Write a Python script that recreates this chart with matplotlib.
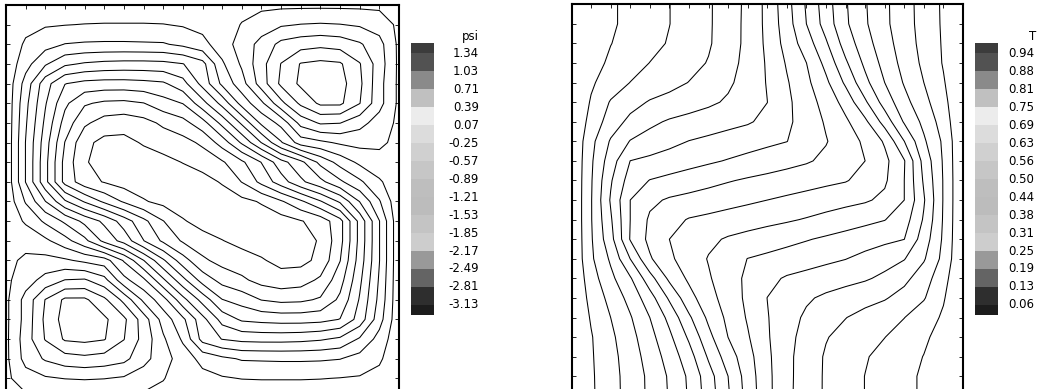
import numpy as np
import matplotlib
matplotlib.use('Agg')
import matplotlib.pyplot as plt
from matplotlib.patches import Rectangle

# 21 x 21 grid nodes (rows go from top y=1 down to bottom y=0)
x = np.linspace(0, 1, 21)
y = np.linspace(1, 0, 21)

# stream function
psi = np.array([
    [0, 0, 0, 0, 0, 0, 0, 0, 0, 0, 0, 0, 0, 0, 0, 0, 0, 0, 0, 0, 0],
    [0, -.15, -.22, -.24, -.26, -.27, -.27, -.27, -.26, -.22, -.15, -.03, .08, .22, .35, .40, .42, .40, .35, .25, 0],
    [0, -.30, -.45, -.58, -.61, -.62, -.62, -.61, -.60, -.50, -.35, -.08, .20, .50, .80, .90, .95, .90, .75, .50, 0],
    [0, -.45, -.85, -1.15, -1.25, -1.30, -1.32, -1.32, -1.30, -1.22, -1.00, -.30, .12, .60, 1.04, 1.36, 1.42, 1.38, 1.05, .55, 0],
    [0, -.70, -1.40, -1.84, -1.95, -1.98, -1.98, -1.95, -1.90, -1.65, -1.10, -.50, -.06, .55, 1.10, 1.40, 1.52, 1.46, 1.10, .50, 0],
    [0, -.80, -1.50, -2.10, -2.45, -2.55, -2.57, -2.50, -2.30, -2.16, -1.65, -1.10, -.45, .00, .62, 1.10, 1.40, 1.40, 1.04, .50, 0],
    [0, -.85, -1.60, -2.30, -2.75, -2.95, -3.00, -2.92, -2.75, -2.60, -2.30, -1.75, -1.15, -.50, -.15, .50, .75, .72, .50, .25, 0],
    [0, -.90, -1.70, -2.50, -3.05, -3.22, -3.22, -3.10, -3.00, -2.92, -2.75, -2.35, -1.80, -1.20, -.60, -.10, .00, .12, .17, .12, 0],
    [0, -.90, -1.75, -2.60, -3.10, -3.25, -3.28, -3.28, -3.22, -3.12, -3.00, -2.85, -2.55, -2.16, -1.65, -1.30, -.80, -.45, -.18, -.02, 0],
    [0, -.90, -1.75, -2.60, -3.00, -3.15, -3.27, -3.30, -3.30, -3.30, -3.25, -3.10, -2.80, -2.40, -2.00, -1.60, -1.30, -.95, -.63, -.30, 0],
    [0, -.60, -1.20, -1.80, -2.20, -2.55, -2.85, -3.10, -3.22, -3.30, -3.33, -3.30, -3.22, -3.10, -2.85, -2.55, -2.20, -1.80, -1.20, -.60, 0],
    [0, -.30, -.63, -.95, -1.30, -1.60, -2.00, -2.40, -2.80, -3.10, -3.25, -3.30, -3.30, -3.30, -3.27, -3.15, -3.00, -2.60, -1.75, -.90, 0],
    [0, -.02, -.18, -.45, -.80, -1.30, -1.65, -2.16, -2.55, -2.85, -3.00, -3.12, -3.22, -3.28, -3.28, -3.25, -3.10, -2.60, -1.75, -.90, 0],
    [0, .12, .17, .12, .00, -.10, -.60, -1.20, -1.80, -2.35, -2.75, -2.92, -3.00, -3.10, -3.22, -3.22, -3.05, -2.50, -1.70, -.90, 0],
    [0, .25, .50, .72, .75, .50, -.15, -.50, -1.15, -1.75, -2.30, -2.60, -2.75, -2.92, -3.00, -2.95, -2.75, -2.30, -1.60, -.85, 0],
    [0, .50, 1.04, 1.40, 1.40, 1.10, .62, .00, -.45, -1.10, -1.65, -2.16, -2.30, -2.50, -2.57, -2.55, -2.45, -2.10, -1.50, -.80, 0],
    [0, .50, 1.10, 1.46, 1.52, 1.40, 1.10, .55, -.06, -.50, -1.10, -1.65, -1.90, -1.95, -1.98, -1.98, -1.95, -1.84, -1.40, -.70, 0],
    [0, .55, 1.05, 1.38, 1.42, 1.36, 1.04, .60, .12, -.30, -1.00, -1.22, -1.30, -1.32, -1.32, -1.30, -1.25, -1.15, -.85, -.45, 0],
    [0, .50, .75, .90, .95, .90, .80, .50, .20, -.08, -.35, -.50, -.60, -.61, -.62, -.62, -.61, -.58, -.45, -.30, 0],
    [0, .25, .35, .40, .42, .40, .35, .22, .08, -.03, -.15, -.22, -.26, -.27, -.27, -.27, -.26, -.24, -.22, -.15, 0],
    [0, 0, 0, 0, 0, 0, 0, 0, 0, 0, 0, 0, 0, 0, 0, 0, 0, 0, 0, 0, 0],
])

# temperature
temp = np.array([
    [1, .973, .946, .922, .899, .876, .848, .820, .782, .735, .671, .585, .493, .404, .319, .255, .200, .149, .101, .053, 0],
    [1, .973, .946, .922, .899, .876, .848, .820, .781, .734, .672, .591, .500, .411, .323, .258, .201, .150, .102, .054, 0],
    [1, .970, .939, .916, .894, .870, .845, .819, .780, .734, .675, .602, .531, .446, .348, .275, .213, .156, .105, .056, 0],
    [1, .961, .927, .900, .874, .853, .832, .809, .772, .731, .681, .619, .563, .482, .385, .299, .229, .166, .112, .058, 0],
    [1, .946, .908, .874, .853, .832, .811, .785, .760, .726, .684, .631, .577, .513, .427, .330, .250, .182, .125, .068, 0],
    [1, .932, .870, .836, .807, .792, .776, .761, .742, .715, .688, .638, .590, .540, .477, .385, .286, .208, .144, .081, 0],
    [1, .916, .846, .796, .763, .743, .731, .719, .706, .694, .672, .637, .598, .556, .511, .451, .350, .243, .172, .096, 0],
    [1, .893, .806, .747, .726, .705, .686, .674, .662, .650, .638, .626, .597, .566, .530, .489, .430, .313, .197, .114, 0],
    [1, .885, .780, .687, .673, .660, .647, .634, .621, .608, .595, .582, .569, .550, .525, .500, .454, .379, .228, .118, 0],
    [1, .881, .757, .659, .623, .609, .595, .581, .567, .555, .545, .535, .525, .514, .504, .480, .447, .375, .242, .121, 0],
    [1, .879, .744, .625, .576, .555, .544, .533, .522, .511, .500, .489, .478, .467, .456, .445, .424, .375, .256, .121, 0],
    [1, .879, .758, .625, .553, .520, .496, .486, .475, .465, .455, .445, .433, .419, .405, .391, .377, .341, .243, .119, 0],
    [1, .882, .772, .621, .546, .500, .475, .450, .431, .418, .405, .392, .379, .366, .353, .340, .327, .313, .220, .115, 0],
    [1, .886, .803, .687, .570, .511, .470, .434, .403, .374, .362, .350, .338, .326, .314, .295, .274, .253, .194, .107, 0],
    [1, .904, .828, .757, .650, .549, .489, .444, .402, .363, .328, .306, .294, .281, .269, .257, .237, .204, .154, .084, 0],
    [1, .919, .856, .792, .714, .615, .523, .460, .410, .362, .312, .285, .258, .239, .224, .208, .193, .164, .130, .068, 0],
    [1, .932, .875, .818, .750, .670, .573, .487, .423, .369, .316, .274, .240, .215, .189, .168, .147, .126, .092, .054, 0],
    [1, .942, .888, .834, .771, .701, .615, .518, .437, .381, .319, .269, .228, .191, .168, .147, .126, .100, .073, .039, 0],
    [1, .944, .895, .844, .787, .725, .652, .554, .469, .398, .325, .266, .220, .181, .155, .130, .106, .084, .061, .030, 0],
    [1, .946, .898, .850, .799, .742, .677, .589, .500, .409, .328, .266, .219, .180, .152, .124, .101, .078, .054, .027, 0],
    [1, .947, .899, .851, .800, .745, .681, .596, .507, .415, .329, .265, .218, .180, .152, .124, .101, .078, .054, .027, 0],
])

psi_levels = [-3.13, -2.81, -2.49, -2.17, -1.85, -1.53, -1.21, -0.89,
              -0.57, -0.25, 0.07, 0.39, 0.71, 1.03, 1.34]
psi_labels = ['1.34', '1.03', '0.71', '0.39', '0.07', '-0.25', '-0.57', '-0.89',
              '-1.21', '-1.53', '-1.85', '-2.17', '-2.49', '-2.81', '-3.13']

t_levels = [0.0625, 0.125, 0.1875, 0.25, 0.3125, 0.375, 0.4375, 0.5,
            0.5625, 0.625, 0.6875, 0.75, 0.8125, 0.875, 0.9375]
t_labels = ['0.94', '0.88', '0.81', '0.75', '0.69', '0.63', '0.56', '0.50',
            '0.44', '0.38', '0.31', '0.25', '0.19', '0.13', '0.06']

# legend swatches, top to bottom
swatch_grays = ['#3c3c3c', '#525252', '#8a8a8a', '#c0c0c0', '#ececec', '#dcdcdc',
                '#d0d0d0', '#c6c6c6', '#bebebe', '#bcbcbc', '#c4c4c4', '#cdcdcd',
                '#999999', '#646464', '#2e2e2e', '#1c1c1c']

W, H = 1037, 389
fig = plt.figure(figsize=(W / 100, H / 100), dpi=100)


def px_axes(left, top, w, h):
    return fig.add_axes([left / W, (H - top - h) / H, w / W, h / H])


def style(ax):
    ax.set_xlim(0, 1)
    ax.set_ylim(0, 1)
    ticks = np.arange(0, 1.0001, 0.05)
    ax.set_xticks(ticks)
    ax.set_yticks(ticks)
    ax.tick_params(direction='in', length=3, width=0.6, top=True, right=True,
                   labelbottom=False, labelleft=False)
    for s in ax.spines.values():
        s.set_linewidth(1.5)


ax1 = px_axes(6, 5, 393, 393)
ax1.contour(x, y, psi, levels=psi_levels, colors='k', linewidths=0.75,
            linestyles='solid')
style(ax1)

ax2 = px_axes(571.5, 4.3, 391.5, 391.5)
ax2.contour(x, y, temp, levels=t_levels, colors='k', linewidths=0.75,
            linestyles='solid')
style(ax2)

# legends drawn in pixel space
lax = fig.add_axes([0, 0, 1, 1])
lax.set_xlim(0, W)
lax.set_ylim(H, 0)
lax.axis('off')


def legend(x0, title, labels, tx, ha):
    tops = [43] + [53 + 18 * i for i in range(15)]
    heights = [10] + [18] * 14 + [10]
    for top, h, c in zip(tops, heights, swatch_grays):
        lax.add_patch(Rectangle((x0, top), 23, h, facecolor=c, edgecolor='none'))
    for i, lab in enumerate(labels):
        lax.text(tx, 53 + 18 * i, lab, ha=ha, va='center', fontsize=8.5,
                 family='DejaVu Sans')
    lax.text(tx if ha == 'right' else tx + 28, 36, title, ha='right', va='center',
             fontsize=8.5, family='DejaVu Sans')


legend(411, 'psi', psi_labels, 479, 'right')
legend(975, 'T', t_labels, 1008, 'left')

fig.savefig('out.png', dpi=100)
